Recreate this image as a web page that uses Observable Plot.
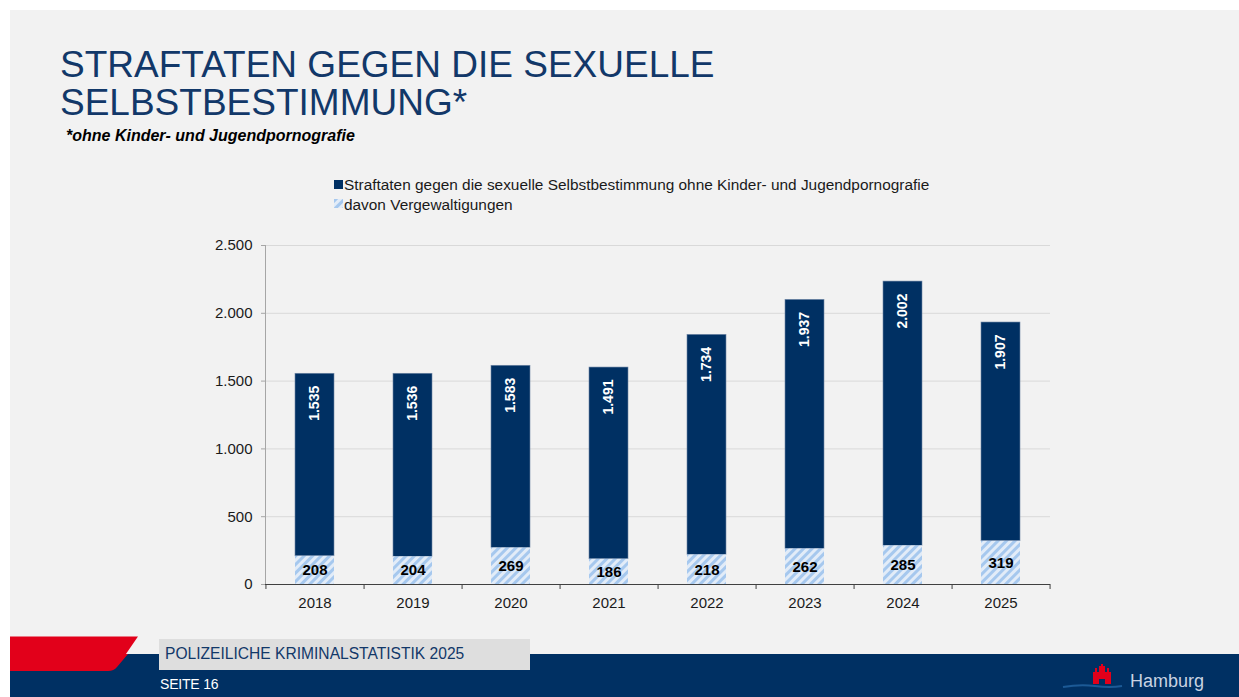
<!DOCTYPE html>
<html>
<head>
<meta charset="utf-8">
<script src="https://cdn.jsdelivr.net/npm/d3@7"></script>
<script src="https://cdn.jsdelivr.net/npm/@observablehq/plot@0.6"></script>
<style>
  html, body { margin: 0; padding: 0; background: #ffffff; }
  body { width: 1239px; height: 697px; position: relative; overflow: hidden; font-family: "Liberation Sans", Arial, sans-serif; }
  #slide { position: absolute; left: 10px; top: 10px; width: 1229px; height: 687px; background: #f2f2f2; }
  .abs { position: absolute; white-space: nowrap; }
  #title { left: 60px; top: 46px; font-size: 37px; line-height: 38.4px; color: #123869; }
  #subtitle { left: 66px; top: 127px; font-size: 16px; line-height: 18px; font-weight: bold; font-style: italic; color: #000; }
  .leg { font-size: 15.4px; line-height: 18px; color: #1a1a1a; left: 344px; }
  .sw { position: absolute; width: 9px; height: 9px; left: 334px; }
  #chart { position: absolute; left: 0; top: 230px; }
  #navy { left: 10px; top: 654px; width: 1229px; height: 43px; background: #003063; }
  #greybox { left: 159px; top: 639px; width: 371px; height: 31px; background: #dedede; }
  #pks { left: 165px; top: 645px; font-size: 15.6px; line-height: 18px; color: #123869; }
  #seite { left: 160px; top: 676px; font-size: 14px; line-height: 16px; color: #ffffff; letter-spacing: -0.2px; }
  #hh { left: 1130px; top: 671px; font-size: 18px; line-height: 20px; color: #c9d3e2; }
</style>
</head>
<body>
<div id="slide"></div>
<div class="abs" id="title">STRAFTATEN GEGEN DIE SEXUELLE<br>SELBSTBESTIMMUNG*</div>
<div class="abs" id="subtitle">*ohne Kinder- und Jugendpornografie</div>

<div class="sw" style="top:180px;background:#003063;"></div>
<div class="abs leg" style="top:176px;" id="leg1"></div>
<svg class="sw" style="top:199px;" width="9" height="9"><defs><pattern id="hatchLeg" patternUnits="userSpaceOnUse" width="6" height="6" patternTransform="rotate(45)"><rect width="6" height="6" fill="#e2ecf8"></rect><rect width="3" height="6" fill="#a6c8ee"></rect></pattern></defs><rect width="9" height="9" fill="url(#hatchLeg)"></rect></svg>
<div class="abs leg" style="top:196px;" id="leg2"></div>

<div id="chart"></div>

<svg class="abs" style="left:10px;top:636px;" width="130" height="40">
  <path d="M0,0.5 H128 L107,31 Q104,35 98,35 H0 Z" fill="#e2001a"></path>
</svg>
<div class="abs" id="navy"></div>
<svg class="abs" style="left:10px;top:654px;" width="130" height="20">
  <path d="M0,0 H118 L107,13 Q104,17 98,17 H0 Z" fill="#e2001a"></path>
</svg>
<div class="abs" id="greybox"></div>
<div class="abs" id="pks">POLIZEILICHE KRIMINALSTATISTIK 2025</div>
<div class="abs" id="seite">SEITE 16</div>
<svg class="abs" style="left:1060px;top:660px;" width="65" height="32">
  <path d="M3,27 Q20,24 35,26 T62,26" stroke="#1c5a96" stroke-width="2" fill="none"></path>
  <path d="M33,24 V12 H35 V8 H37 V12 H39 V6 H41 V4 H43 V6 H45 V12 H47 V8 H49 V12 H51 V24 H45 V19 H39 V24 Z" fill="#e2001a"></path>
</svg>
<div class="abs" id="hh">Hamburg</div>

<script>
// ---- Daten ----
const jahre = ["2018", "2019", "2020", "2021", "2022", "2023", "2024", "2025"];
// Beschriftete Werte der Gesamtbalken
const straftatenLabel = [1535, 1536, 1583, 1491, 1734, 1937, 2002, 1907];
const balkenHoehe = [1554, 1554, 1613, 1600, 1841, 2099, 2234, 1932];
// davon Vergewaltigungen
const vergewaltigungen = [208, 204, 269, 186, 218, 262, 285, 319];
const yTicks = [0, 500, 1000, 1500, 2000, 2500];
const legendeTexte = [
  "Straftaten gegen die sexuelle Selbstbestimmung ohne Kinder- und Jugendpornografie",
  "davon Vergewaltigungen"
];

document.getElementById("leg1").textContent = legendeTexte[0];
document.getElementById("leg2").textContent = legendeTexte[1];

const de = d3.formatLocale({decimal: ",", thousands: ".", grouping: [3], currency: ["", " €"]});
const fmt = de.format(",d");

const rows = jahre.map((j, i) => ({
  jahr: j,
  gesamt: balkenHoehe[i],
  label: straftatenLabel[i],
  verg: vergewaltigungen[i]
}));

const W = 1239, H = 390;
const mL = 265, mR = 189, mT = 15, mB = 36;
const step = (W - mL - mR) / jahre.length;

const navy = "#003063";

const chart = Plot.plot({
  width: W,
  height: H,
  marginLeft: mL,
  marginRight: mR,
  marginTop: mT,
  marginBottom: mB,
  style: {background: "transparent", fontFamily: "Liberation Sans, Arial, sans-serif", color: "#1a1a1a"},
  x: {domain: jahre, paddingInner: 0.6, paddingOuter: 0.3, axis: null},
  y: {domain: [0, 2500], axis: null},
  marks: [
    Plot.gridY(yTicks, {stroke: "#d9d9d9", strokeOpacity: 1, strokeWidth: 1}),
    Plot.barY(rows, {x: "jahr", y1: "verg", y2: "gesamt", fill: navy, stroke: "#6f86a6", strokeWidth: 0.6}),
    Plot.barY(rows, {x: "jahr", y1: 0, y2: "verg", fill: "url(#hatch)"}),
    Plot.frame({anchor: "left", stroke: "#a6a6a6"}),
    Plot.ruleY([0], {stroke: "#404040", strokeWidth: 1}),
    Plot.axisY(yTicks, {tickSize: 4, tickPadding: 9, tickFormat: fmt, fontSize: 15, stroke: "#a6a6a6", fill: "#1a1a1a", label: null}),
    Plot.axisX(jahre, {tickSize: 0, tickPadding: 13, fontSize: 15, fill: "#1a1a1a", label: null}),
    Plot.axisX(jahre, {tickSize: 5, tickFormat: () => "", dx: step / 2, stroke: "#404040", label: null}),
    Plot.axisX(jahre.slice(0, 1), {tickSize: 5, tickFormat: () => "", dx: -step / 2, stroke: "#404040", label: null}),
    Plot.text(rows, {x: "jahr", y: "gesamt", text: d => fmt(d.label), rotate: -90, textAnchor: "end", dy: 12, fill: "white", fontWeight: "bold", fontSize: 14}),
    Plot.text(rows, {x: "jahr", y: d => d.verg / 2, text: d => fmt(d.verg), fill: "#000", fontWeight: "bold", fontSize: 15})
  ]
});

// Schraffur-Muster für "davon Vergewaltigungen"
const ns = "http://www.w3.org/2000/svg";
const defs = document.createElementNS(ns, "defs");
defs.innerHTML = '<pattern id="hatch" patternUnits="userSpaceOnUse" width="6" height="6" patternTransform="rotate(45)"><rect width="6" height="6" fill="#e2ecf8"></rect><rect width="3" height="6" fill="#a6c8ee"></rect></pattern>';
chart.insertBefore(defs, chart.firstChild);

document.getElementById("chart").appendChild(chart);
</script>
</body>
</html>
